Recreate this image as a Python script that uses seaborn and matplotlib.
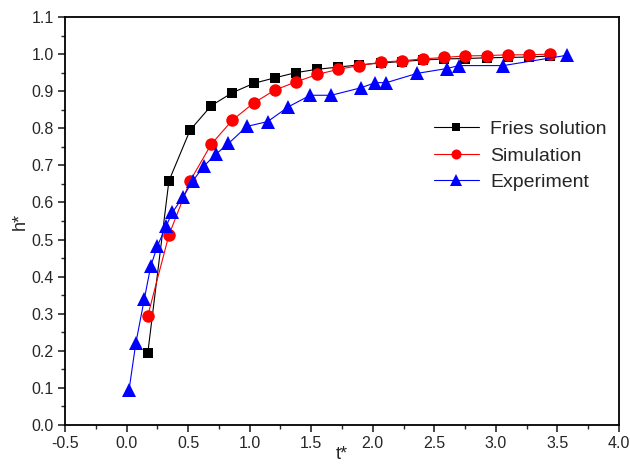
import matplotlib
matplotlib.use("Agg")
import matplotlib.pyplot as plt
import seaborn as sns
import pandas as pd
from matplotlib.ticker import MultipleLocator

# ---- data ----
t_model = [0.172, 0.344, 0.516, 0.688, 0.86, 1.032, 1.204, 1.376, 1.548, 1.72,
           1.892, 2.064, 2.236, 2.408, 2.58, 2.752, 2.924, 3.096, 3.268, 3.44]
h_fries = [0.193, 0.658, 0.795, 0.861, 0.896, 0.921, 0.936, 0.950, 0.959, 0.965,
           0.971, 0.976, 0.980, 0.984, 0.987, 0.988, 0.990, 0.991, 0.992, 0.995]
h_sim = [0.294, 0.512, 0.658, 0.757, 0.822, 0.868, 0.903, 0.925, 0.945, 0.959,
         0.969, 0.978, 0.982, 0.987, 0.991, 0.995, 0.996, 0.998, 0.998, 1.0]
t_exp = [0.02, 0.075, 0.145, 0.197, 0.25, 0.321, 0.372, 0.457, 0.538, 0.626,
         0.725, 0.828, 0.977, 1.146, 1.315, 1.492, 1.663, 1.902, 2.02, 2.11,
         2.36, 2.60, 2.70, 3.06, 3.58]
h_exp = [0.094, 0.22, 0.341, 0.429, 0.482, 0.536, 0.573, 0.614, 0.658, 0.697,
         0.730, 0.759, 0.805, 0.818, 0.858, 0.889, 0.889, 0.909, 0.923, 0.923,
         0.948, 0.961, 0.969, 0.969, 0.997]
labels = ["Fries solution", "Simulation", "Experiment"]
x_ticks = [-0.5, 0.0, 0.5, 1.0, 1.5, 2.0, 2.5, 3.0, 3.5, 4.0]
y_ticks = [0.0, 0.1, 0.2, 0.3, 0.4, 0.5, 0.6, 0.7, 0.8, 0.9, 1.0, 1.1]

sns.set_style("white")
plt.rcParams["font.family"] = ["Liberation Sans", "DejaVu Sans"]

fig = plt.figure(figsize=(6.3, 4.66), dpi=100)
ax = fig.add_axes([65/630, 41/466, 554/630, 408/466])

df_f = pd.DataFrame({"t": t_model, "h": h_fries})
df_s = pd.DataFrame({"t": t_model, "h": h_sim})
df_e = pd.DataFrame({"t": t_exp, "h": h_exp})

sns.lineplot(data=df_f, x="t", y="h", ax=ax, sort=False, color="black",
             marker="s", markersize=7, markeredgewidth=0, linewidth=0.8,
             label=labels[0])
sns.lineplot(data=df_s, x="t", y="h", ax=ax, sort=False, color="red",
             marker="o", markersize=9, markeredgewidth=0, linewidth=0.8,
             label=labels[1])
sns.lineplot(data=df_e, x="t", y="h", ax=ax, sort=False, color="blue",
             marker="^", markersize=10, markeredgewidth=0, linewidth=0.8,
             label=labels[2])

ax.set_xlim(-0.5, 4.0)
ax.set_ylim(0.0, 1.1)
ax.set_xticks(x_ticks)
ax.set_yticks(y_ticks)
ax.set_xticklabels([f"{v:.1f}" for v in x_ticks])
ax.set_yticklabels([f"{v:.1f}" for v in y_ticks])
ax.xaxis.set_minor_locator(MultipleLocator(0.25))
ax.yaxis.set_minor_locator(MultipleLocator(0.05))
ax.tick_params(which="major", direction="out", length=5, width=1.2,
               labelsize=11.5, bottom=True, left=True, top=False, right=False, pad=3)
ax.tick_params(which="minor", direction="out", length=3, width=1.0,
               bottom=True, left=True, top=False, right=False)
for s in ax.spines.values():
    s.set_linewidth(1.3)
    s.set_color("black")

ax.set_xlabel("t*", fontsize=13, labelpad=-4)
ax.set_ylabel("h*", fontsize=13, labelpad=2)

leg = ax.legend(loc="center", bbox_to_anchor=(0.822, 0.66), frameon=False,
                fontsize=14, handlelength=2.3, labelspacing=0.45,
                markerscale=0.8, handletextpad=0.6)

fig.savefig("out.png", dpi=100)
